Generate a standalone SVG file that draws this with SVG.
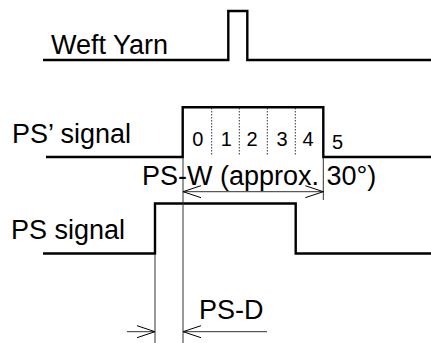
<svg xmlns="http://www.w3.org/2000/svg" width="431" height="343" viewBox="0 0 431 343">
<style>
.sig{fill:none;stroke:#000;stroke-width:2.4;stroke-linejoin:miter}
.thin{fill:none;stroke:#333;stroke-width:1}
.dot{fill:none;stroke:#333;stroke-width:1;stroke-dasharray:1.5 1.5}
.lbl{font-family:"Liberation Sans",Arial,sans-serif;font-size:27px;fill:#000}
.num{font-family:"Liberation Sans",Arial,sans-serif;font-size:20px;fill:#000;text-anchor:middle}
</style>
<defs>
<marker id="arr" markerUnits="userSpaceOnUse" markerWidth="22" markerHeight="14" refX="19" refY="7" orient="auto-start-reverse" viewBox="0 0 22 14">
<path d="M1,1 L19,7 L1,13" fill="none" stroke="#000" stroke-width="1"/>
</marker>
</defs>
<g id="weft-yarn">
<path class="sig" d="M43,60 H228.3 V11 H247.3 V60 H431"/>
<text class="lbl" x="51" y="53.5">Weft Yarn</text>
</g>
<g id="ps-prime-signal">
<path class="sig" d="M46,157 H182.7 V107.3 H323.3 V157 H431"/>
<path class="dot" d="M211.7,108 V156 M239.3,108 V156 M267.3,108 V156 M295.3,108 V156"/>
<text class="lbl" x="12" y="143">PS’ signal</text>
<text class="num" x="197.7" y="145.5">0</text>
<text class="num" x="226.2" y="145.5">1</text>
<text class="num" x="252" y="145.5">2</text>
<text class="num" x="282" y="145.5">3</text>
<text class="num" x="308" y="145.5">4</text>
<text class="num" x="337.5" y="149">5</text>
</g>
<g id="ps-signal">
<path class="sig" d="M43,253.5 H155 V203.5 H295.7 V253.5 H431"/>
<text class="lbl" x="11" y="238.5">PS signal</text>
</g>
<g id="connectors">
<path class="thin" d="M183,158 V343 M323.3,158 V200 M155,255 V343"/>
<line class="thin" x1="183" y1="191.7" x2="323.3" y2="191.7" marker-start="url(#arr)" marker-end="url(#arr)"/>
<line class="thin" x1="127" y1="331.7" x2="155" y2="331.7" marker-end="url(#arr)"/>
<line class="thin" x1="267" y1="331.7" x2="183" y2="331.7" marker-end="url(#arr)"/>
</g>
<g id="labels">
<text class="lbl" x="142" y="185">PS-W (approx. 30°)</text>
<text class="lbl" x="199" y="319">PS-D</text>
</g>
</svg>
